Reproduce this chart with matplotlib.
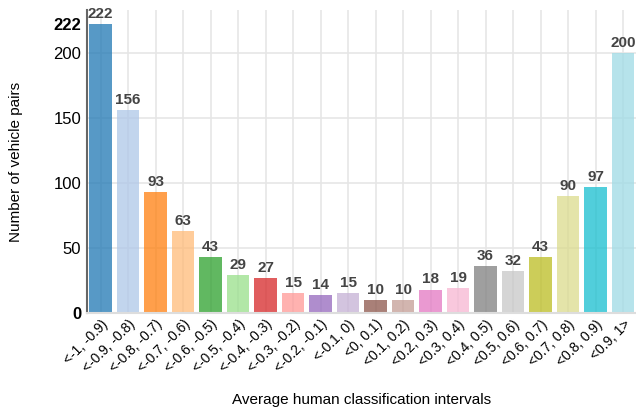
import numpy as np
import matplotlib.pyplot as plt

plt.rcParams['font.family'] = ['Liberation Sans', 'DejaVu Sans']

intervals = ["<-1, -0.9)", "<-0.9, -0.8)", "<-0.8, -0.7)", "<-0.7, -0.6)",
             "<-0.6, -0.5)", "<-0.5, -0.4)", "<-0.4, -0.3)", "<-0.3, -0.2)",
             "<-0.2, -0.1)", "<-0.1, 0)", "<0, 0.1)", "<0.1, 0.2)",
             "<0.2, 0.3)", "<0.3, 0.4)", "<0.4, 0.5)", "<0.5, 0.6)",
             "<0.6, 0.7)", "<0.7, 0.8)", "<0.8, 0.9)", "<0.9, 1>"]
counts = [222, 156, 93, 63, 43, 29, 27, 15, 14, 15,
          10, 10, 18, 19, 36, 32, 43, 90, 97, 200]
yticks = [0, 50, 100, 150, 200, 222]

colors = [plt.cm.tab20(i) for i in range(len(counts))]
x = np.arange(len(counts))

fig = plt.figure(figsize=(6.36, 4.09), dpi=100)
ax = fig.add_axes([0.1364, 0.2347, 0.8648, 0.741])

ax.set_axisbelow(True)
ax.grid(True, color='#e6e6e6', lw=1.2)
bars = ax.bar(x, counts, width=0.83, color=colors, alpha=0.75)
for b, v in zip(bars, counts):
    ax.text(b.get_x() + b.get_width() / 2, v + 2.5, str(v), ha='center', va='bottom',
            fontsize=11, fontweight='bold', color='#444444')

ax.set_xlim(-0.5, len(counts) - 0.5)
ax.set_ylim(0, 233)
ax.set_xticks(x)
ax.set_xticklabels(intervals, rotation=45, ha='right', va='top',
                   rotation_mode='anchor', fontsize=10)
ax.set_yticks(yticks)
ax.set_yticklabels([str(t) for t in yticks], fontsize=12)
for lbl, t in zip(ax.get_yticklabels(), yticks):
    if t in (0, 222):
        lbl.set_fontweight('bold')
for gl, t in zip(ax.get_ygridlines(), yticks):
    if t in (0, 222):
        gl.set_visible(False)
ax.tick_params(axis='y', length=0, pad=4)
ax.tick_params(axis='x', length=0, pad=3)

for s in ('top', 'right'):
    ax.spines[s].set_visible(False)
ax.spines['left'].set_color('#666666')
ax.spines['left'].set_linewidth(1.5)
ax.spines['bottom'].set_color('#dddddd')
ax.spines['bottom'].set_linewidth(1.5)

ax.set_ylabel("Number of vehicle pairs", fontsize=11, va='center')
ax.yaxis.set_label_coords(-0.128, 0.5)
ax.set_xlabel("Average human classification intervals", fontsize=11, va='center')
ax.xaxis.set_label_coords(0.5, -0.287)

fig.savefig("out.png", dpi=100)
